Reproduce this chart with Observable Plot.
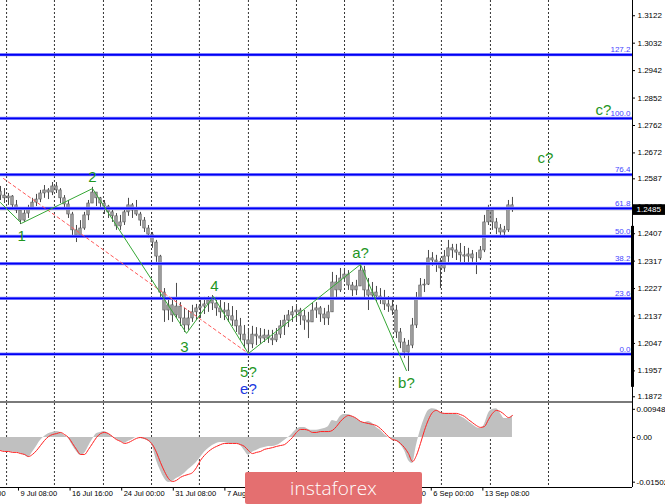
<!DOCTYPE html>
<html><head><meta charset="utf-8">
<script src="https://cdn.jsdelivr.net/npm/d3@7"></script>
<script src="https://cdn.jsdelivr.net/npm/@observablehq/plot@0.6"></script>
<style>
body{margin:0;background:#fff;}
#wrap{position:relative;width:665px;height:504px;overflow:hidden;background:#fff;font-family:"Liberation Sans",Arial,sans-serif;}
#wrap svg{display:block;}
#sep{position:absolute;left:0;top:401px;width:632px;height:2px;background:#7a7a7a;}
#wm{position:absolute;left:245px;top:472px;width:177px;height:32px;background:#e46f70;color:#fff;font:300 19px "Open Sans",sans-serif;display:flex;align-items:center;justify-content:center;border-radius:2px;letter-spacing:0.2px;}
</style></head><body>
<div id="wrap"><div id="price"></div><div id="macd"></div><div id="sep"></div><div id="wm">instaforex</div></div>
<script>
// ---- candles (H4, one entry per ~2.5 bars) ----
const firstOpen = 1.2545;
const cHigh = [
1.2562,1.2555,1.2539,1.2532,1.2516,1.2493,1.2483,1.2500,1.2523,1.2536,
1.2549,1.2565,1.2555,1.2575,1.2575,1.2555,1.2532,1.2516,1.2477,1.2434,
1.2450,1.2477,1.2516,1.2559,1.2542,1.2526,1.2516,1.2500,1.2490,1.2473,
1.2467,1.2490,1.2523,1.2506,1.2516,1.2477,1.2460,1.2434,1.2411,1.2385,
1.2336,1.2227,1.2195,1.2188,1.2244,1.2181,1.2162,1.2155,1.2172,1.2175,
1.2188,1.2198,1.2201,1.2204,1.2198,1.2188,1.2181,1.2178,1.2168,1.2155,
1.2129,1.2106,1.2090,1.2103,1.2099,1.2096,1.2093,1.2090,1.2090,1.2096,
1.2122,1.2139,1.2155,1.2168,1.2172,1.2162,1.2155,1.2149,1.2178,1.2181,
1.2168,1.2162,1.2172,1.2280,1.2270,1.2293,1.2293,1.2286,1.2247,1.2254,
1.2309,1.2300,1.2260,1.2247,1.2234,1.2227,1.2221,1.2201,1.2188,1.2172,
1.2096,1.2063,1.2057,1.2129,1.2214,1.2260,1.2257,1.2352,1.2345,1.2336,
1.2326,1.2352,1.2385,1.2372,1.2372,1.2375,1.2365,1.2359,1.2352,1.2345,
1.2365,1.2467,1.2500,1.2493,1.2457,1.2437,1.2431,1.2516,1.2526];
const cLow = [
1.2516,1.2506,1.2500,1.2490,1.2473,1.2437,1.2444,1.2457,1.2483,1.2496,
1.2509,1.2523,1.2519,1.2532,1.2539,1.2506,1.2490,1.2457,1.2395,1.2378,
1.2398,1.2418,1.2450,1.2506,1.2496,1.2483,1.2470,1.2457,1.2444,1.2418,
1.2418,1.2434,1.2464,1.2457,1.2464,1.2431,1.2411,1.2391,1.2359,1.2313,
1.2188,1.2116,1.2122,1.2116,1.2129,1.2103,1.2083,1.2090,1.2116,1.2122,
1.2129,1.2142,1.2149,1.2155,1.2136,1.2129,1.2122,1.2116,1.2103,1.2083,
1.2057,1.2030,1.2008,1.2030,1.2040,1.2044,1.2050,1.2047,1.2040,1.2050,
1.2063,1.2073,1.2099,1.2116,1.2122,1.2106,1.2090,1.2063,1.2116,1.2129,
1.2116,1.2106,1.2106,1.2155,1.2195,1.2214,1.2247,1.2221,1.2201,1.2204,
1.2240,1.2195,1.2155,1.2188,1.2181,1.2175,1.2155,1.2149,1.2139,1.2063,
1.2030,1.1998,1.1955,1.2030,1.2096,1.2188,1.2214,1.2237,1.2300,1.2280,
1.2227,1.2280,1.2313,1.2326,1.2319,1.2313,1.2306,1.2313,1.2313,1.2273,
1.2319,1.2345,1.2434,1.2418,1.2404,1.2398,1.2391,1.2411,1.2477];
const cClose = [
1.2532,1.2523,1.2529,1.2500,1.2483,1.2450,1.2473,1.2490,1.2509,1.2519,
1.2539,1.2549,1.2542,1.2562,1.2549,1.2523,1.2503,1.2470,1.2418,1.2401,
1.2424,1.2467,1.2506,1.2542,1.2523,1.2506,1.2496,1.2477,1.2464,1.2431,
1.2444,1.2477,1.2500,1.2483,1.2470,1.2450,1.2424,1.2404,1.2378,1.2332,
1.2214,1.2155,1.2172,1.2139,1.2168,1.2129,1.2106,1.2129,1.2149,1.2162,
1.2168,1.2175,1.2188,1.2178,1.2162,1.2149,1.2155,1.2136,1.2122,1.2103,
1.2076,1.2057,1.2044,1.2076,1.2070,1.2063,1.2073,1.2063,1.2057,1.2076,
1.2103,1.2122,1.2139,1.2149,1.2155,1.2136,1.2122,1.2116,1.2155,1.2162,
1.2142,1.2129,1.2149,1.2247,1.2221,1.2260,1.2273,1.2237,1.2221,1.2234,
1.2286,1.2221,1.2204,1.2214,1.2201,1.2195,1.2175,1.2168,1.2155,1.2083,
1.2050,1.2017,1.2040,1.2106,1.2195,1.2237,1.2240,1.2326,1.2319,1.2313,
1.2293,1.2332,1.2359,1.2352,1.2345,1.2336,1.2332,1.2339,1.2326,1.2326,
1.2352,1.2444,1.2483,1.2444,1.2424,1.2411,1.2418,1.2500,1.2485];
// ---- MACD (main histogram, signal) ----
const macdHist = [
-0.0044,-0.0047,-0.0047,-0.0050,-0.0050,-0.0054,-0.0060,-0.0067,-0.0050,-0.0030,
-0.0010,0.0003,0.0013,0.0017,0.0020,0.0017,0.0007,-0.0003,-0.0027,-0.0047,
-0.0060,-0.0054,-0.0030,-0.0007,0.0013,0.0017,0.0020,0.0013,0.0003,-0.0007,
-0.0013,-0.0020,-0.0013,-0.0007,0.0000,-0.0003,-0.0007,-0.0013,-0.0030,-0.0077,
-0.0111,-0.0138,-0.0151,-0.0148,-0.0138,-0.0131,-0.0121,-0.0108,-0.0097,-0.0084,
-0.0067,-0.0050,-0.0037,-0.0027,-0.0020,-0.0017,-0.0017,-0.0020,-0.0020,-0.0020,
-0.0027,-0.0044,-0.0060,-0.0050,-0.0044,-0.0037,-0.0034,-0.0030,-0.0030,-0.0027,
-0.0020,-0.0010,0.0000,0.0013,0.0027,0.0034,0.0034,0.0027,0.0024,0.0024,
0.0027,0.0030,0.0037,0.0057,0.0054,0.0071,0.0077,0.0077,0.0071,0.0064,
0.0054,0.0050,0.0054,0.0047,0.0034,0.0024,0.0010,0.0000,-0.0007,-0.0013,
-0.0024,-0.0044,-0.0077,-0.0087,-0.0027,0.0024,0.0064,0.0091,0.0097,0.0094,
0.0084,0.0081,0.0081,0.0077,0.0077,0.0071,0.0064,0.0054,0.0044,0.0034,
0.0030,0.0044,0.0081,0.0094,0.0097,0.0081,0.0064,0.0064,0.0074];
const macdSignal = [
-0.0044,-0.0047,-0.0047,-0.0050,-0.0050,-0.0054,-0.0057,-0.0064,-0.0057,-0.0044,
-0.0027,-0.0010,0.0003,0.0010,0.0013,0.0017,0.0010,0.0000,-0.0020,-0.0040,
-0.0057,-0.0057,-0.0040,-0.0020,0.0000,0.0013,0.0017,0.0013,0.0003,-0.0007,
-0.0013,-0.0020,-0.0017,-0.0010,-0.0003,0.0000,-0.0003,-0.0010,-0.0024,-0.0050,
-0.0084,-0.0114,-0.0138,-0.0148,-0.0144,-0.0134,-0.0128,-0.0124,-0.0118,-0.0101,
-0.0077,-0.0060,-0.0047,-0.0037,-0.0030,-0.0024,-0.0020,-0.0020,-0.0020,-0.0020,
-0.0024,-0.0030,-0.0044,-0.0054,-0.0050,-0.0047,-0.0040,-0.0037,-0.0034,-0.0030,
-0.0027,-0.0024,-0.0013,0.0000,0.0017,0.0027,0.0027,0.0024,0.0017,0.0017,
0.0020,0.0020,0.0020,0.0024,0.0037,0.0054,0.0067,0.0074,0.0071,0.0064,
0.0054,0.0050,0.0047,0.0044,0.0040,0.0030,0.0017,0.0003,-0.0007,-0.0010,
-0.0020,-0.0034,-0.0054,-0.0081,-0.0060,-0.0020,0.0024,0.0060,0.0084,0.0091,
0.0084,0.0081,0.0081,0.0081,0.0081,0.0077,0.0071,0.0060,0.0050,0.0040,
0.0034,0.0037,0.0060,0.0081,0.0091,0.0087,0.0077,0.0067,0.0074];
const lastPrice = 1.2485;
// ---- Fibonacci levels ----
const fibLabels = ["127.2","100.0","76.4","61.8","50.0","38.2","23.6","0.0"];
const fibPrices = [1.2994,1.2785,1.2601,1.2490,1.2398,1.2309,1.2195,1.2012];
// ---- wave count (bar index, price) ----
const waveBars   = [20.84,33.86,77.9,136.2,152.9,174.6,244.1,272.6];
const wavePrices = [1.2509,1.2441,1.2555,1.2080,1.2201,1.2014,1.2306,1.1958];
const trendBars   = [22.7,174.6];
const trendPrices = [1.2588,1.2014];
const waveLabelText   = ["1","2","3","4","5?","a?","b?","c?","c?"];
const waveLabelBars   = [33.9,77.9,134.9,153.5,174.6,244.1,272.6,358.8,394.8];
const waveLabelPrices = [1.2398,1.2591,1.2034,1.2234,1.1952,1.2342,1.1916,1.2654,1.2811];
const altLabelText = ["e?"], altLabelBars = [174.6], altLabelPrices = [1.1896];
// ---- axes ----
const priceTicks = [1.3122,1.3032,1.2942,1.2852,1.2762,1.2672,1.2587,1.2497,1.2407,1.2317,1.2227,1.2137,1.2047,1.1957,1.1872];
const macdTicks = [0.00948,0,-0.01502];
const macdTickLabels = ["0.00948","0.00","-0.01502"];
const dateBars = [0,32,64,96,128,160,192,224,256,288,320];
const dateLabels = ["2 Jul 00:00","9 Jul 08:00","16 Jul 16:00","24 Jul 00:00","31 Jul 08:00","7 Aug 16:00","15 Aug 00:00","22 Aug 08:00","29 Aug 16:00","6 Sep 00:00","13 Sep 08:00"];
const gridBars = [24.6,54.3,84.7,114.5,144.2,174.6,204.4,234.2,264.5,294.3,324.7,360.7];

const xDomain = [20.84, 412.8];
const pxPerBar = 632/(xDomain[1]-xDomain[0]);
const firstBar = 20.84, barsPerCandle = 2.4806;
const candles = cClose.map((c,i)=>{
  const o = i===0 ? firstOpen : cClose[i-1];
  return {bar:firstBar+i*barsPerCandle, open:o, close:c,
          high:Math.max(cHigh[i],o,c), low:Math.min(cLow[i],o,c)};
});
const macd = macdHist.map((h,i)=>({bar:firstBar+i*barsPerCandle, hist:h, signal:macdSignal[i]}));
const wave = waveBars.map((b,i)=>({bar:b, price:wavePrices[i]}));
const trend = trendBars.map((b,i)=>({bar:b, price:trendPrices[i]}));
const wLabels = waveLabelText.map((t,i)=>({t, bar:waveLabelBars[i], price:waveLabelPrices[i]}));
const aLabels = altLabelText.map((t,i)=>({t, bar:altLabelBars[i], price:altLabelPrices[i]}));
const fib = fibPrices.map((p,i)=>({p, label:fibLabels[i]}));
const dateMap = new Map(dateBars.map((b,i)=>[b,dateLabels[i]]));
const macdMap = new Map(macdTicks.map((v,i)=>[v,macdTickLabels[i]]));

const font = "'Liberation Sans', Arial, sans-serif";
const gridStyle = {stroke:"#111", strokeDasharray:"2,2", strokeWidth:1, strokeOpacity:0.85};
const xR = xDomain[1];

const priceChart = Plot.plot({
  width:665, height:403, marginLeft:0, marginRight:33, marginTop:0, marginBottom:0,
  x:{domain:xDomain, axis:null},
  y:{domain:[1.1850,1.3172], axis:null},
  style:{fontFamily:font, fontSize:"8px", background:"white"},
  marks:[
    Plot.ruleX(gridBars, gridStyle),
    Plot.ruleY([lastPrice], {stroke:"#c4c4c4", strokeWidth:1}),
    Plot.ruleX(candles, {x:"bar", y1:"low", y2:"high", stroke:"#4a4a4a", strokeWidth:1}),
    Plot.rect(candles, {x1:d=>d.bar-0.75, x2:d=>d.bar+0.75, y1:"open", y2:"close", fill:"#a3a3a3", stroke:"#555", strokeWidth:0.6}),
    Plot.ruleY(fib, {y:"p", stroke:"#8f8fff", strokeWidth:3.2}),
    Plot.ruleY(fib, {y:"p", stroke:"#0000f5", strokeWidth:1.8}),
    Plot.text(fib, {y:"p", text:"label", frameAnchor:"right", textAnchor:"end", dx:-2, dy:-5, fill:"#4646ff", fontSize:8}),
    Plot.line(trend, {x:"bar", y:"price", stroke:"#ff5a5a", strokeWidth:1, strokeDasharray:"3,3"}),
    Plot.line(wave, {x:"bar", y:"price", stroke:"#36a836", strokeWidth:1}),
    Plot.text(wLabels, {x:"bar", y:"price", text:"t", fill:"#1f961f", fontSize:15}),
    Plot.text(aLabels, {x:"bar", y:"price", text:"t", fill:"#2038e0", fontSize:15}),
    Plot.ruleX([xR], {stroke:"#000", strokeWidth:1}),
    Plot.ruleX([xR], {y1:1.2431, y2:1.1903, stroke:"#000", strokeWidth:3}),
    Plot.ruleY(priceTicks, {x1:xR, x2:xR+3/pxPerBar, stroke:"#000"}),
    Plot.text(priceTicks, {y:d=>d, text:d=>d.toFixed(4), frameAnchor:"right", textAnchor:"start", dx:5, fill:"#000", fontSize:8}),
    Plot.rect([lastPrice], {x1:xR+1/pxPerBar, x2:xR+33/pxPerBar, y1:d=>d-0.0018, y2:d=>d+0.0017, fill:"#000"}),
    Plot.text([lastPrice], {y:d=>d, text:d=>d.toFixed(4), frameAnchor:"right", textAnchor:"start", dx:4, fill:"#fff", fontSize:8})
  ]
});
document.getElementById("price").appendChild(priceChart);

const mDomain = [-0.01681, 0.01143];
const macdChart = Plot.plot({
  width:665, height:101, marginLeft:0, marginRight:33, marginTop:0, marginBottom:17,
  x:{domain:xDomain, axis:null},
  y:{domain:mDomain, axis:null},
  style:{fontFamily:font, fontSize:"8px", background:"white"},
  marks:[
    Plot.ruleX(gridBars, gridStyle),
    Plot.areaY(macd, {x:"bar", y:"hist", fill:"#c0c0c0", curve:"monotone-x"}),
    Plot.lineY(macd, {x:"bar", y:"signal", stroke:"#ff2020", strokeWidth:1, curve:"monotone-x"}),
    Plot.ruleX([xR], {stroke:"#000", strokeWidth:1}),
    Plot.ruleY([mDomain[0]], {stroke:"#000", strokeWidth:1}),
    Plot.ruleY(macdTicks, {x1:xR, x2:xR+3/pxPerBar, stroke:"#000"}),
    Plot.text(macdTicks, {y:d=>d, text:d=>macdMap.get(d), frameAnchor:"right", textAnchor:"start", dx:4, fill:"#000", fontSize:8}),
    Plot.ruleX(dateBars, {y1:mDomain[0], y2:mDomain[0]-0.0012, stroke:"#000"}),
    Plot.text(dateBars, {x:d=>d, text:d=>dateMap.get(d), frameAnchor:"bottom", textAnchor:"start", dx:2, dy:8, fill:"#000", fontSize:7.5})
  ]
});
document.getElementById("macd").appendChild(macdChart);
</script>
</body></html>
